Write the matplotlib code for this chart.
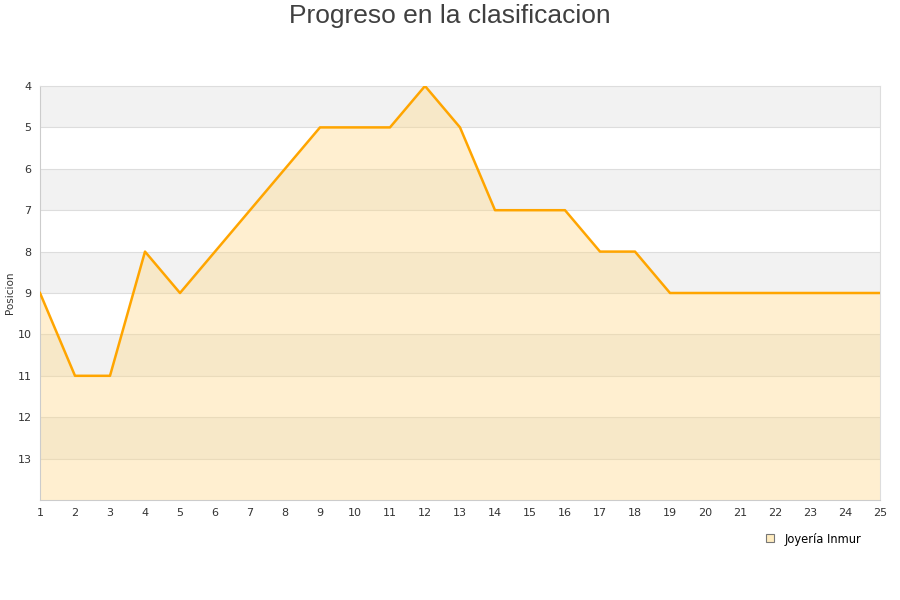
import matplotlib.pyplot as plt
from matplotlib.lines import Line2D

jornadas = list(range(1, 26))
posicion = [9, 11, 11, 8, 9, 8, 7, 6, 5, 5, 5, 4, 5, 7, 7, 7, 8, 8, 9, 9, 9, 9, 9, 9, 9]
y_ticks = [4, 5, 6, 7, 8, 9, 10, 11, 12, 13]
equipo = "Joyería Inmur"

fig = plt.figure(figsize=(9, 6), dpi=100)
ax = fig.add_axes([40 / 900, 100 / 600, 840 / 900, 414 / 600])

# bandas alternas
for y0 in range(4, 14, 2):
    ax.axhspan(y0, y0 + 1, color="#f2f2f2", zorder=0, lw=0)
for y in range(5, 14):
    ax.axhline(y, color="#dddddd", lw=0.8, zorder=1)

ax.fill_between(jornadas, posicion, 14, color="#ffd98a", alpha=0.4, lw=0, zorder=2)
ax.plot(jornadas, posicion, color="#ffa500", lw=1.8, zorder=3)

ax.set_xlim(1, 25)
ax.set_ylim(14, 4)
ax.set_xticks(jornadas)
ax.set_yticks(y_ticks)
ax.tick_params(labelsize=8, colors="#333333", length=0, pad=6)
for s in ["top", "right"]:
    ax.spines[s].set_color("#dddddd")
for s in ["left", "bottom"]:
    ax.spines[s].set_color("#cccccc")
ax.set_ylabel("Posicion", fontsize=7.5, color="#333333")
ax.yaxis.set_label_coords(-25 / 840, 0.5)

fig.text(0.5, 1 - 16 / 600, "Progreso en la clasificacion", fontsize=19, color="#404040",
         family="Liberation Sans", ha="center", va="center")

handle = Line2D([], [], marker="s", ls="", markersize=6, markerfacecolor="#ffecc0",
                markeredgecolor="#777777", markeredgewidth=0.8)
fig.legend([handle], [equipo], loc="center right", bbox_to_anchor=(872 / 900, 1 - 539 / 600),
           frameon=False, fontsize=8.3, handletextpad=0.3)

fig.savefig("out.png", dpi=100)
